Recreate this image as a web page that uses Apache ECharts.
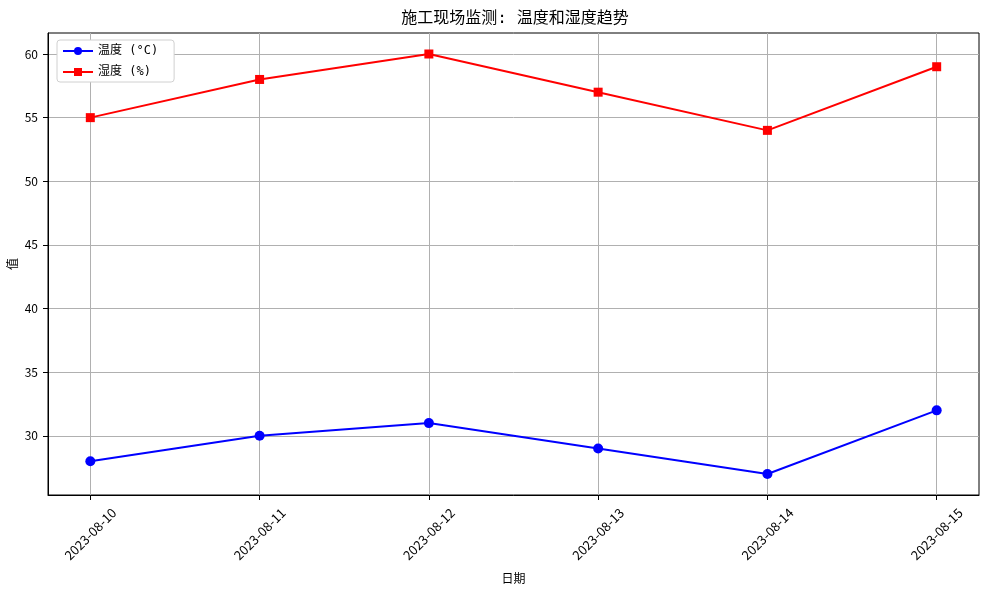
<!DOCTYPE html>
<html>
<head>
<meta charset="utf-8">
<script src="https://cdn.jsdelivr.net/npm/echarts@6/dist/echarts.min.js"></script>
<style>
    html, body { margin: 0; padding: 0; background: #fff; }
    #chart { width: 982px; height: 589px; }
</style>
</head>
<body>
<div id="chart"></div>
<script>
(function(){
    var dates = ['2023-08-10', '2023-08-11', '2023-08-12', '2023-08-13', '2023-08-14', '2023-08-15'];
    var temperature = [28, 30, 31, 29, 27, 32];
    var humidity = [55, 58, 60, 57, 54, 59];
    var yTicks = [30, 35, 40, 45, 50, 55, 60];

    var font = '"Noto Sans CJK SC", sans-serif';
    var monoFont = '"DejaVu Sans Mono", "Noto Sans CJK SC", monospace';
    var idx = dates.map(function(d, i){ return i; });

    function pairs(vals) {
        return vals.map(function(v, i){ return [i, v]; });
    }

    var myChart = echarts.init(document.getElementById('chart'));
    var option = {
        animation: false,
        textStyle: { fontFamily: font },
        title: {
            text: '施工现场监测: 温度和湿度趋势',
            left: 510,
            textAlign: 'center',
            top: 6,
            textStyle: { fontFamily: monoFont, fontSize: 16, fontWeight: 'normal', color: '#000' }
        },
        legend: {
            left: 57,
            top: 40,
            orient: 'vertical',
            itemWidth: 30,
            itemHeight: 10,
            itemGap: 9,
            padding: [5, 16, 4, 5],
            backgroundColor: '#fff',
            borderColor: '#d0d0d0',
            borderWidth: 1,
            borderRadius: 3,
            textStyle: { fontFamily: monoFont, fontSize: 12, color: '#000' },
            data: ['温度 (°C)', '湿度 (%)']
        },
        grid: {
            left: 48,
            right: 3,
            top: 33,
            bottom: 94,
            outerBoundsMode: 'none',
            containLabel: false,
            show: true,
            borderColor: '#000',
            borderWidth: 1
        },
        xAxis: {
            type: 'value',
            min: -0.25,
            max: 5.25,
            name: '日期',
            nameLocation: 'middle',
            nameGap: 79,
            nameMoveOverlap: false,
            nameTextStyle: { fontFamily: monoFont, fontSize: 12, color: '#000' },
            axisLine: { show: true, onZero: false, lineStyle: { color: '#000' } },
            axisTick: { show: true, length: 5, customValues: idx, lineStyle: { color: '#000' } },
            axisLabel: {
                customValues: idx,
                rotate: 45,
                align: 'center',
                verticalAlign: 'middle',
                margin: 39,
                fontSize: 13,
                color: '#000',
                fontFamily: font,
                formatter: function(v){ return dates[Math.round(v)]; }
            },
            splitLine: { show: true, lineStyle: { color: '#b0b0b0', width: 1 } }
        },
        yAxis: {
            type: 'value',
            min: 25.35,
            max: 61.65,
            name: '值',
            nameLocation: 'middle',
            nameGap: 28,
            nameMoveOverlap: false,
            nameTextStyle: { fontFamily: monoFont, fontSize: 12, color: '#000' },
            axisLine: { show: true, onZero: false, lineStyle: { color: '#000' } },
            axisTick: { show: true, length: 5, customValues: yTicks, lineStyle: { color: '#000' } },
            axisLabel: { customValues: yTicks, margin: 10, fontSize: 12, color: '#000', fontFamily: font },
            splitLine: { show: true, lineStyle: { color: '#b0b0b0', width: 1 } }
        },
        series: [{
            name: '温度 (°C)',
            type: 'line',
            data: pairs(temperature),
            symbol: 'circle',
            symbolSize: 10,
            color: '#0000ff',
            lineStyle: { width: 2, color: '#0000ff' },
            itemStyle: { color: '#0000ff' }
        }, {
            name: '湿度 (%)',
            type: 'line',
            data: pairs(humidity),
            symbol: 'rect',
            symbolSize: 9,
            color: '#ff0000',
            lineStyle: { width: 2, color: '#ff0000' },
            itemStyle: { color: '#ff0000' }
        }]
    };
    myChart.setOption(option);

    window.addEventListener('resize', function() {
        myChart.resize();
    });
})()
</script>
</body>
</html>
